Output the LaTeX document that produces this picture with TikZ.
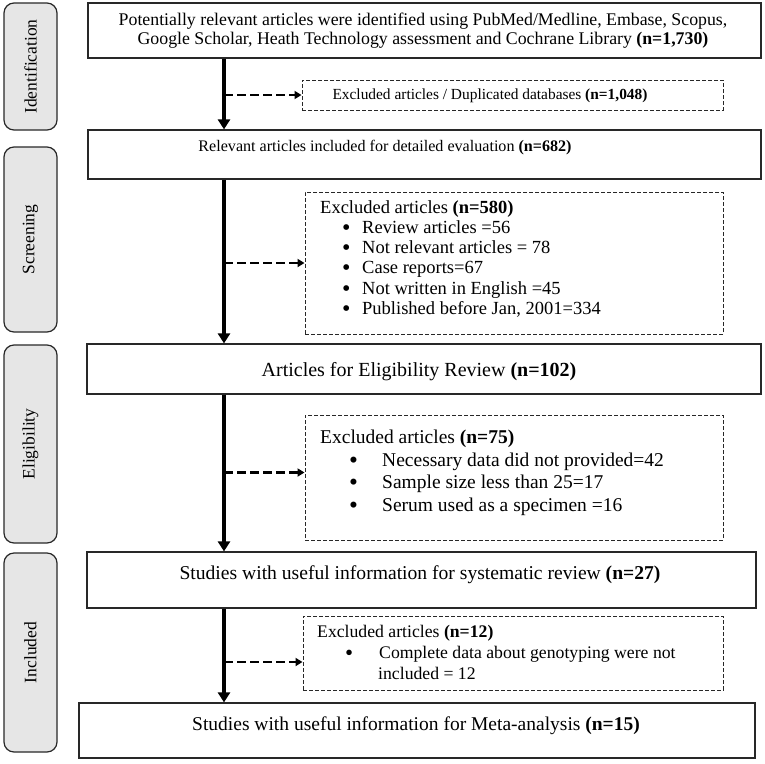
\documentclass[tikz,border=0pt]{standalone}
\usepackage{fontspec}
\setmainfont{Liberation Serif}
\usetikzlibrary{arrows.meta,calc}

\definecolor{stagegray}{RGB}{230,230,230}
\definecolor{boxline}{RGB}{40,40,40}

% bullet: indent to bullet, width up to item text
\newcommand{\bitem}[2]{\hspace*{#1}\makebox[#2][l]{\smash{\raisebox{-0.1em}{\scalebox{1.3}{\textbullet}}}}}
\newcommand{\fsz}[2]{\fontsize{#1}{#2}\selectfont}

\tikzset{
	mainbox/.style = {draw=boxline, line width=1.2pt, inner sep=0pt},
	exbox/.style = {draw=boxline, line width=1pt, dash pattern=on 4pt off 2pt, inner sep=0pt},
	stagebox/.style = {draw=boxline, line width=1.2pt, fill=stagegray, rounded corners=10pt, rotate=90, inner sep=0pt, minimum height=53pt, font=\fsz{17.5}{19}},
	txt/.style = {inner sep=0pt},
	listtxt/.style = {inner sep=0pt, align=left, anchor=north west},
	mainarrow/.style = {line width=3.5pt, -{Triangle[length=10pt,width=12pt]}},
	exarrow/.style = {line width=2.2pt, dash pattern=on 9pt off 4pt, -{Triangle[length=7pt,width=8pt]}}
}

\begin{document}
\begin{tikzpicture}[x=1pt, y=-1pt]
	\useasboundingbox (0,0) rectangle (765,763);
	
	%% STAGES
	\node [stagebox, minimum width=127pt] (sident) at (30.5,66.5)  {Identification};
	\node [stagebox, minimum width=185pt] (sscreen) at (30.5,239.5) {Screening};
	\node [stagebox, minimum width=198pt] (selig) at (30.5,444)     {Eligibility};
	\node [stagebox, minimum width=199pt] (sincl) at (30.5,652.5)   {Included};
	
	%% MAIN BOXES
	\node [mainbox, minimum width=673pt, minimum height=55pt] (b1) at (424.5,30.5) {};
	\node [txt, align=center, font=\fsz{17.8}{19}] (t1) at (423,31) {Potentially relevant articles were identified using PubMed/Medline, Embase, Scopus,\\ Google Scholar, Heath Technology assessment and Cochrane Library \textbf{(n=1,730)}};
	
	\node [mainbox, minimum width=673pt, minimum height=49pt] (b2) at (424.5,154.5) {};
	\node [txt, font=\fsz{16.1}{19}] (t2) at (385,148) {Relevant articles included for detailed evaluation \textbf{(n=682)}};
	
	\node [mainbox, minimum width=674pt, minimum height=50pt] (b3) at (424,369) {};
	\node [txt, font=\fsz{20}{22}] (t3) at (419,372) {Articles for Eligibility Review \textbf{(n=102)}};
	
	\node [mainbox, minimum width=669pt, minimum height=56pt] (b4) at (421.5,580) {};
	\node [txt, font=\fsz{19.6}{22}] (t4) at (420,575) {Studies with useful information for systematic review \textbf{(n=27)}};
	
	\node [mainbox, minimum width=676pt, minimum height=55pt] (b5) at (417,730.5) {};
	\node [txt, font=\fsz{19.5}{22}] (t5) at (416,726) {Studies with useful information for Meta-analysis \textbf{(n=15)}};
	
	%% EXCLUDED BOXES
	\node [exbox, minimum width=421pt, minimum height=30pt] (ex1) at (512.5,95) {};
	\node [txt, font=\fsz{15.4}{17}] (et1) at (490,96) {Excluded articles / Duplicated databases \textbf{(n=1,048)}};
	
	\node [exbox, minimum width=418pt, minimum height=142pt] (ex2) at (514,263) {};
	\node [listtxt, font=\fsz{18.5}{20.3}] (et2) at (320,200) {Excluded articles \textbf{(n=580)}\\
		\bitem{22pt}{20pt}Review articles =56\\
		\bitem{22pt}{20pt}Not relevant articles = 78\\
		\bitem{22pt}{20pt}Case reports=67\\
		\bitem{22pt}{20pt}Not written in English =45\\
		\bitem{22pt}{20pt}Published before Jan, 2001=334};
	
	\node [exbox, minimum width=418pt, minimum height=125pt] (ex3) at (514,477.5) {};
	\node [listtxt, font=\fsz{19.5}{22.5}] (et3) at (320,430) {Excluded articles \textbf{(n=75)}\\
		\bitem{29pt}{33pt}Necessary data did not provided=42\\
		\bitem{29pt}{33pt}Sample size less than 25=17\\
		\bitem{29pt}{33pt}Serum used as a specimen =16};
	
	\node [exbox, minimum width=420pt, minimum height=74pt] (ex4) at (513,653) {};
	\node [listtxt, font=\fsz{17.7}{21}] (et4) at (317,625) {Excluded articles \textbf{(n=12)}\\
		\bitem{28pt}{34pt}Complete data about genotyping were not\\
		\hspace*{61pt}included = 12};
	
	%% ARROWS
	\coordinate (spine) at (224,0);
	\draw [mainarrow] (b1.south -| spine) -- (b2.north -| spine);
	\draw [mainarrow] (b2.south -| spine) -- (b3.north -| spine);
	\draw [mainarrow] (b3.south -| spine) -- (b4.north -| spine);
	\draw [mainarrow] (b4.south -| spine) -- (b5.north -| spine);
	
	% Excluded arrows
	\coordinate (ex3in) at ($(ex3.west)+(0,-5)$);
	\coordinate (ex4in) at ($(ex4.west)+(0,9)$);
	\draw [exarrow] (spine |- ex1.west) -- (ex1.west);
	\draw [exarrow] (spine |- ex2.west) -- (ex2.west);
	\draw [exarrow] (spine |- ex3in) -- (ex3in);
	\draw [exarrow] (spine |- ex4in) -- (ex4in);
	
\end{tikzpicture}
\end{document}
